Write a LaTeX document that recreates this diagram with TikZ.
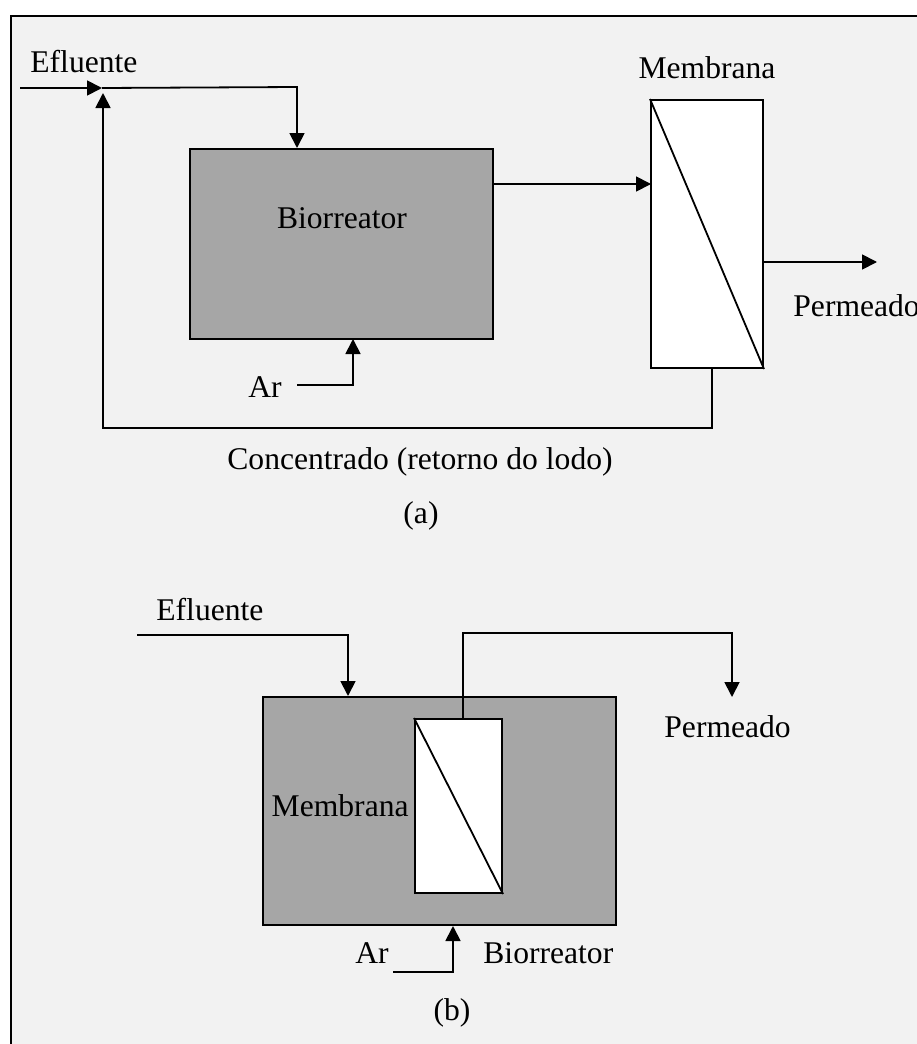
\documentclass[tikz,border=0pt]{standalone}
\usepackage{fontspec}
\setmainfont{Liberation Serif}
\usetikzlibrary{arrows.meta,positioning}
\definecolor{panelGray}{RGB}{242,242,242}
\definecolor{tankGray}{RGB}{166,166,166}

\begin{document}
\begin{tikzpicture}[
  x=0.5pt, y=-0.5pt,
  lbl/.style={font=\fontsize{15.8}{19}\selectfont, inner sep=0pt},
  tank/.style={draw, line width=1pt, fill=tankGray, inner sep=0pt},
  membrane/.style={draw, line width=1pt, fill=white, inner sep=0pt},
  flow/.style={line width=0.9pt},
  arrow/.style={flow, -{Triangle[length=7.5pt,width=7.5pt]}}
]
  \useasboundingbox (0,0) rectangle (916,1044);
  \draw[line width=1pt, fill=panelGray] (11,16) rectangle (960,1080);

  % (a) external membrane
  \node[tank, minimum width=151.5pt, minimum height=95pt] (bioA) at (341.5,244) {};
  \node[lbl] (bioAtext) at (342,218) {Biorreator};
  \node[membrane, minimum width=56pt, minimum height=134pt] (memA) at (707,234) {};
  \draw[flow] (memA.north west) -- (memA.south east);
  \node[lbl, above=10pt of memA] (memAtext) {Membrana};

  \node[lbl, anchor=west] (efA) at (30,62) {Efluente};
  \coordinate (inA) at (20,88);
  \coordinate (joinA) at (102,88);
  \coordinate (feedA) at (297,87);
  \coordinate (tipA) at (103,93);
  \coordinate (retA) at (103,428);
  \coordinate (linkA) at (651,184);
  \coordinate (permA) at (877,262);
  \coordinate (airA) at (297,385);
  \coordinate (airupA) at (353,339);

  \draw[arrow] (inA) -- (joinA);
  \draw[arrow] (joinA) -- (feedA) -- (feedA |- bioA.north);
  \draw[arrow] (bioA.east |- linkA) -- (linkA);
  \draw[arrow] (memA.east |- permA) -- (permA);
  \node[lbl, anchor=west] (permAtext) at (793,306) {Permeado};
  \draw[arrow] (airA) -| (airupA);
  \node[lbl] (arA) at (265,387) {Ar};
  \draw[arrow] (memA.south -| 712,0) |- (retA) -- (tipA);
  \node[lbl] (concA) at (420,462) {Concentrado (retorno do lodo)};
  \node[lbl] (capA) at (421,516) {(a)};

  % (b) submerged membrane
  \node[tank, minimum width=176.5pt, minimum height=114pt] (bioB) at (439.5,811) {};
  \node[membrane, minimum width=43.5pt, minimum height=87pt] (memB) at (458.5,806) {};
  \draw[flow] (memB.north west) -- (memB.south east);
  \node[lbl, left=2.5pt of memB] (memBtext) {Membrana};

  \node[lbl, anchor=west] (efB) at (156,610) {Efluente};
  \coordinate (inB) at (137,635);
  \coordinate (feedB) at (348,635);
  \coordinate (outB) at (463,633);
  \coordinate (permB) at (732,697);
  \coordinate (airB) at (393,972);
  \coordinate (airupB) at (453,926);

  \draw[arrow] (inB) -- (feedB) -- (feedB |- bioB.north);
  \draw[arrow] (outB |- memB.north) -- (outB) -| (permB);
  \node[lbl, anchor=west] (permBtext) at (664,727) {Permeado};
  \draw[arrow] (airB) -| (airupB);
  \node[lbl] (arB) at (372,953) {Ar};
  \node[lbl, anchor=west] (bioBtext) at (483,953) {Biorreator};
  \node[lbl] (capB) at (452,1013) {(b)};
\end{tikzpicture}
\end{document}
